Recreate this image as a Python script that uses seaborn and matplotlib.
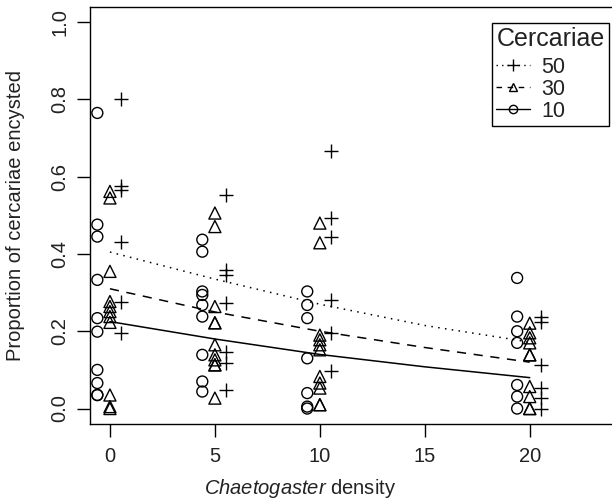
import matplotlib
matplotlib.use("Agg")
import matplotlib.pyplot as plt
from matplotlib.lines import Line2D
import numpy as np
import pandas as pd
import seaborn as sns

densities = [0, 5, 10, 20]
doses = [10, 30, 50]

prop_10 = {
    0: [0.765, 0.476, 0.445, 0.333, 0.234, 0.199, 0.10, 0.066, 0.035, 0.035],
    5: [0.437, 0.406, 0.303, 0.294, 0.268, 0.238, 0.139, 0.07, 0.044],
    10: [0.303, 0.268, 0.234, 0.130, 0.04, 0.005, 0.0],
    20: [0.338, 0.238, 0.2, 0.17, 0.061, 0.031, 0.0],
}
prop_30 = {
    0: [0.562, 0.545, 0.355, 0.277, 0.264, 0.251, 0.238, 0.223, 0.035, 0.005, 0.0],
    5: [0.506, 0.471, 0.264, 0.222, 0.222, 0.165, 0.139, 0.126, 0.113, 0.113, 0.027],
    10: [0.48, 0.429, 0.19, 0.178, 0.165, 0.152, 0.083, 0.066, 0.053, 0.01, 0.01],
    20: [0.221, 0.196, 0.183, 0.17, 0.139, 0.139, 0.057, 0.031, 0.0, 0.0],
}
prop_50 = {
    0: [0.80, 0.575, 0.566, 0.432, 0.277, 0.196],
    5: [0.553, 0.359, 0.346, 0.273, 0.147, 0.117, 0.048],
    10: [0.666, 0.494, 0.445, 0.281, 0.195, 0.096],
    20: [0.238, 0.225, 0.113, 0.053, 0.027, 0.0],
}

# horizontal dodge of each dose group around its density
dodge = {10: -0.6, 30: 0.0, 50: 0.52}

# fitted curves, read at these densities
curve_x = [0, 5, 10, 15, 20]
fit_10 = [0.225, 0.18, 0.14, 0.108, 0.08]
fit_30 = [0.31, 0.25, 0.20, 0.158, 0.12]
fit_50 = [0.405, 0.335, 0.27, 0.215, 0.172]

rows = []
for dose, table in zip(doses, [prop_10, prop_30, prop_50]):
    for d in densities:
        for v in table[d]:
            rows.append({"density": d + dodge[dose], "prop": v, "dose": dose})
pts = pd.DataFrame(rows)

fits = pd.DataFrame({
    "density": curve_x * 3,
    "prop": fit_10 + fit_30 + fit_50,
    "dose": [10] * 5 + [30] * 5 + [50] * 5,
})

sns.set_style("ticks")
plt.rcParams["font.family"] = ["Liberation Sans", "DejaVu Sans"]
plt.rcParams["mathtext.fontset"] = "custom"
plt.rcParams["mathtext.rm"] = "Liberation Sans"
plt.rcParams["mathtext.it"] = "Liberation Sans:italic"

fig = plt.figure(figsize=(6.12, 5.0), dpi=100)
ax = fig.add_axes([90 / 612, 1 - 424 / 500, 530 / 612, 417.3 / 500])

marker = {10: "o", 30: "^", 50: "+"}
msize = {10: 62, 30: 75, 50: 110}
styles = {10: "-", 30: (0, (6, 5)), 50: (0, (1, 3.5))}

for dose in doses:
    sub = pts[pts["dose"] == dose]
    if marker[dose] == "+":
        sns.scatterplot(data=sub, x="density", y="prop", marker="+", s=msize[dose],
                        color="black", linewidth=1.0, ax=ax, legend=False)
    else:
        sns.scatterplot(data=sub, x="density", y="prop", marker=marker[dose],
                        s=msize[dose], facecolor="none", edgecolor="black",
                        linewidth=1.0, ax=ax, legend=False)
    fsub = fits[fits["dose"] == dose]
    sns.lineplot(data=fsub, x="density", y="prop", color="black", lw=1.1,
                 linestyle=styles[dose], ax=ax, legend=False)

ax.set_xlim(-0.95, 24.3)
ax.set_ylim(-0.04, 1.04)
ax.set_xticks([0, 5, 10, 15, 20])
ax.set_yticks([0.0, 0.2, 0.4, 0.6, 0.8, 1.0])
ax.set_yticklabels(["0.0", "0.2", "0.4", "0.6", "0.8", "1.0"])
ax.tick_params(axis="both", labelsize=14.5, length=9.5, width=1, color="black",
               labelcolor="#222222")
ax.tick_params(axis="x", pad=7)
ax.tick_params(axis="y", pad=5.5, labelrotation=90)
for lab in ax.get_yticklabels():
    lab.set_va("center")
for sp in ax.spines.values():
    sp.set_visible(True)
    sp.set_color("black")
    sp.set_linewidth(1.0)

ax.set_xlabel(r"$\it{Chaetogaster}$ density", fontsize=14.5, color="#222222")
ax.set_ylabel("Proportion of cercariae encysted", fontsize=14.5, color="#222222")
ax.xaxis.set_label_coords((300 - 90) / 530, -0.127)
ax.yaxis.set_label_coords(-0.122, 0.5)

handles = [
    Line2D([], [], color="black", ls=(0, (1, 3)), lw=1, marker="+", markersize=9),
    Line2D([], [], color="black", ls=(0, (4, 4)), lw=1, marker="^", markersize=6,
           markerfacecolor="none"),
    Line2D([], [], color="black", ls="-", lw=1, marker="o", markersize=6,
           markerfacecolor="none"),
]
leg = ax.legend(handles, ["50", "30", "10"], title="Cercariae", loc="upper left",
                bbox_to_anchor=((492 - 90) / 530, (424 - 23) / 417.3),
                borderaxespad=0, fontsize=15.5, title_fontsize=18,
                handlelength=1.55, handletextpad=0.55, borderpad=0.2,
                labelspacing=0.05, frameon=True, fancybox=False,
                edgecolor="black", framealpha=1, alignment="left")
leg._legend_box.sep = 4
leg.get_frame().set_linewidth(1.0)
for t in leg.get_texts():
    t.set_color("#222222")
leg.get_title().set_color("#222222")

fig.savefig("out.png", dpi=100)
